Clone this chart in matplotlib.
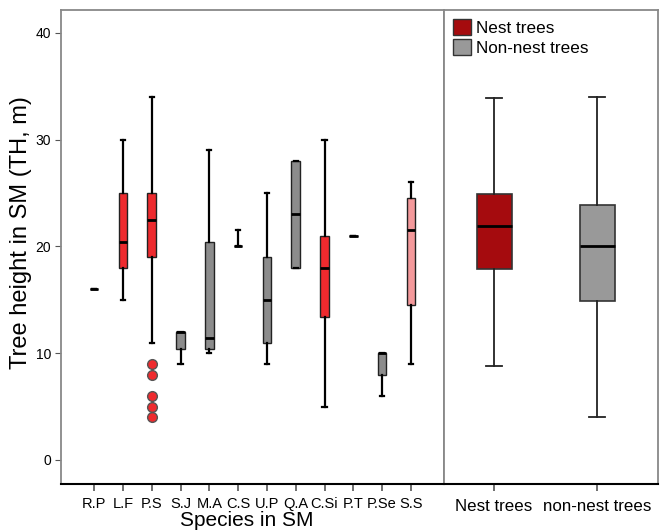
import matplotlib
matplotlib.use("Agg")
import matplotlib.pyplot as plt
from matplotlib.patches import Patch

plt.rcParams['font.family'] = ['Liberation Sans', 'DejaVu Sans']

# species boxes in SM: whislo, q1, median, q3, whishi
species = ['R.P', 'L.F', 'P.S', 'S.J', 'M.A', 'C.S', 'U.P', 'Q.A', 'C.Si', 'P.T', 'P.Se', 'S.S']
whislo = [16, 15, 11, 9, 10, 20, 9, 18, 5, 21, 6, 9]
q1 = [16, 18, 19, 10.4, 10.4, 20, 11, 18, 13.4, 21, 8, 14.5]
med = [16, 20.4, 22.5, 12, 11.4, 20, 15, 23, 18, 21, 10, 21.5]
q3 = [16, 25, 25, 12, 20.4, 20, 19, 28, 21, 21, 10, 24.5]
whishi = [16, 30, 34, 12, 29, 21.5, 25, 28, 30, 21, 10, 26]
fliers = [[], [], [9, 8, 6, 5, 4], [], [], [], [], [], [], [], [], []]
sp_colors = ['#8c8c8c', '#ee2a2e', '#ee2a2e', '#8c8c8c', '#8c8c8c', '#8c8c8c',
             '#8c8c8c', '#8c8c8c', '#ee2a2e', '#8c8c8c', '#8c8c8c', '#f4999b']

# nest vs non-nest
groups = ['Nest trees', 'non-nest trees']
g_whislo = [8.8, 4]
g_q1 = [17.9, 14.9]
g_med = [21.9, 20]
g_q3 = [24.9, 23.9]
g_whishi = [33.9, 34]
g_colors = ['#a50b0e', '#999999']

fig = plt.figure(figsize=(6.65, 5.31), dpi=100)
ax1 = fig.add_axes([0.0917, 0.0885, 0.5760, 0.8927])
ax2 = fig.add_axes([0.6677, 0.0885, 0.3218, 0.8927], sharey=ax1)

stats = []
for i in range(len(species)):
    stats.append(dict(whislo=whislo[i], q1=q1[i], med=med[i], q3=q3[i],
                      whishi=whishi[i], fliers=fliers[i], label=species[i]))
bp = ax1.bxp(stats, positions=range(1, 13), widths=0.3, patch_artist=True,
             capwidths=0.15,
             boxprops=dict(linewidth=1.0, edgecolor='#222222'),
             medianprops=dict(color='black', linewidth=2),
             whiskerprops=dict(color='black', linewidth=1.6),
             capprops=dict(color='black', linewidth=1.6),
             flierprops=dict(marker='o', markerfacecolor='#ee2a2e',
                             markeredgecolor='#555555', markersize=7))
for patch, c in zip(bp['boxes'], sp_colors):
    patch.set_facecolor(c)

gstats = []
for i in range(2):
    gstats.append(dict(whislo=g_whislo[i], q1=g_q1[i], med=g_med[i], q3=g_q3[i],
                       whishi=g_whishi[i], fliers=[], label=groups[i]))
bp2 = ax2.bxp(gstats, positions=[1, 2], widths=0.34, patch_artist=True,
              capwidths=0.16,
              boxprops=dict(linewidth=1.2, edgecolor='#333333'),
              medianprops=dict(color='black', linewidth=2),
              whiskerprops=dict(color='#222222', linewidth=1.3),
              capprops=dict(color='#222222', linewidth=1.3))
for patch, c in zip(bp2['boxes'], g_colors):
    patch.set_facecolor(c)

ax1.set_xlim(-0.15, 13.15)
ax2.set_xlim(0.515, 2.59)
ax1.set_ylim(-2.25, 42.15)
ax1.set_yticks([0, 10, 20, 30, 40])
ax1.tick_params(axis='y', labelsize=10, color='#555555', length=4, pad=3)
ax1.tick_params(axis='x', labelsize=10.5, color='#555555', length=5, width=1.2, pad=4)
ax2.tick_params(axis='y', left=False, labelleft=False)
ax2.tick_params(axis='x', labelsize=12.2, color='#555555', length=5, width=1.2, pad=6)

for ax in (ax1, ax2):
    for s in ('left', 'right', 'top'):
        ax.spines[s].set_color('#888888')
        ax.spines[s].set_linewidth(1.3)
    ax.spines['bottom'].set_color('black')
    ax.spines['bottom'].set_linewidth(1.5)

ax1.set_ylabel('Tree height in SM (TH, m)', fontsize=17)
ax1.yaxis.set_label_coords(-0.075, 0.53)
ax1.set_xlabel('Species in SM', fontsize=15)
ax1.xaxis.set_label_coords(0.486, -0.056)

handles = [Patch(facecolor=g_colors[0], edgecolor='#333333', label='Nest trees'),
           Patch(facecolor=g_colors[1], edgecolor='#333333', label='Non-nest trees')]
ax2.legend(handles=handles, loc='upper left', frameon=False, fontsize=12.3,
           handlelength=1.1, handleheight=1.1, handletextpad=0.3,
           labelspacing=0.2, borderaxespad=0.2, borderpad=0.3)

fig.savefig('out.png', dpi=100)
